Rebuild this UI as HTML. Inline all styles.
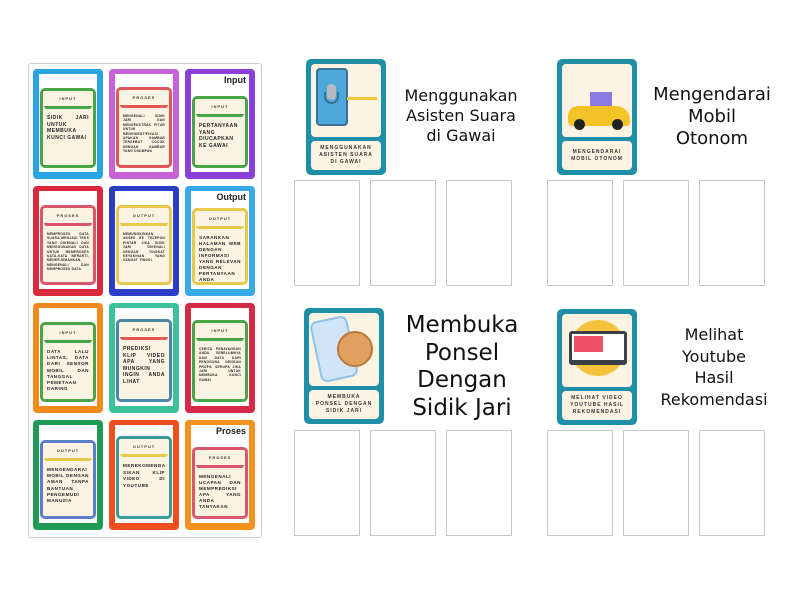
<!DOCTYPE html>
<html><head><meta charset="utf-8"><style>
*{margin:0;padding:0;box-sizing:border-box}
body{width:800px;height:600px;background:#fff;position:relative;overflow:hidden;font-family:"Liberation Sans",sans-serif}
.a{position:absolute}
.panel{left:28px;top:63px;width:234px;height:475px;border:1px solid #ccc;border-radius:3px;background:#fff}
.c{position:absolute;width:70px;height:110px;border-radius:4px}
.w{position:absolute;left:6px;top:5px;right:6px;bottom:7px;background:#fff}
.in{position:absolute;left:1px;right:1px;top:13px;bottom:4px;border:3px solid;border-radius:5px;background:#fdf3e3;overflow:hidden}
.hd{position:absolute;left:1px;right:1px;top:1px;height:17px;border-bottom:3px solid;border-radius:3px;font-size:4px;font-weight:bold;letter-spacing:1px;text-align:center;line-height:14px;color:#333;background:#fdf3e3}
.bd{position:absolute;left:4px;right:4px;top:24px;font-size:5px;font-weight:bold;letter-spacing:.5px;line-height:6.6px;color:#222;text-align:justify}
.bd.s{font-size:3.2px;line-height:4.4px;letter-spacing:.3px}
.lb{position:absolute;right:3px;top:1px;font-size:9px;font-weight:bold;color:#222}
.box{position:absolute;width:66px;height:106px;border:1px solid #c8c8c8;background:#fff}
.tc{position:absolute;width:80px;height:116px;background:#1e8fa6;border-radius:5px}
.img{position:absolute;left:5px;top:5px;right:5px;height:73px;background:#fdf3e3;border-radius:4px;overflow:hidden}
.cap{position:absolute;left:5px;right:5px;top:82px;bottom:5px;background:#fdf3e3;border-radius:4px;font-size:5px;font-weight:bold;letter-spacing:1px;text-align:center;color:#333;display:flex;align-items:center;justify-content:center;line-height:7px}
.t{position:absolute;text-align:center;color:#111;font-family:"DejaVu Sans","Liberation Sans",sans-serif}
</style></head><body>
<div class="a panel"></div>

<!-- row1 -->
<div class="c" style="left:33px;top:69px;background:#2aa3e2"><div class="w"><div class="in" style="border-color:#4aa448;top:14px"><div class="hd" style="border-color:#4aa448">INPUT</div><div class="bd">SIDIK JARI UNTUK MEMBUKA KUNCI GAWAI</div></div></div></div>
<div class="c" style="left:109px;top:69px;background:#c663d8"><div class="w"><div class="in" style="border-color:#e0575a"><div class="hd" style="border-color:#e0575a">PROSES</div><div class="bd s">MENGENALI SIDIK JARI DAN MENGEKSTRAK FITUR UNTUK MENGIDENTIFIKASI APAKAH GAMBAR TERSEBUT COCOK DENGAN GAMBAR YANG DISIMPAN</div></div></div></div>
<div class="c" style="left:185px;top:69px;background:#8b3fd9"><div class="w"><div class="lb">Input</div><div class="in" style="border-color:#4aa448;top:22px"><div class="hd" style="border-color:#4aa448">INPUT</div><div class="bd">PERTANYAAN YANG DIUCAPKAN KE GAWAI</div></div></div></div>
<!-- row2 -->
<div class="c" style="left:33px;top:186px;background:#d8283c"><div class="w"><div class="in" style="border-color:#d9576a;top:14px"><div class="hd" style="border-color:#d9576a">PROSES</div><div class="bd s">MEMPROSES DATA SUARA MENJADI TEKS YANG DIKENALI DAN MENGGUNAKAN DATA UNTUK MEMPROSES KATA-KATA BERARTI, MENERJEMAHKAN, MENGENALI DAN MEMPROSES DATA</div></div></div></div>
<div class="c" style="left:109px;top:186px;background:#2a3fc6"><div class="w"><div class="in" style="border-color:#e9c94a;top:14px"><div class="hd" style="border-color:#e9c94a">OUTPUT</div><div class="bd s">MEMUNGKINKAN AKSES KE TELEPON PINTAR JIKA SIDIK JARI DIKENALI DENGAN TINGKAT KEYAKINAN YANG SANGAT TINGGI</div></div></div></div>
<div class="c" style="left:185px;top:186px;background:#37a9e6"><div class="w"><div class="lb">Output</div><div class="in" style="border-color:#e9c94a;top:17px"><div class="hd" style="border-color:#e9c94a">OUTPUT</div><div class="bd" style="font-size:4.6px;line-height:6px">SARANKAN HALAMAN WEB DENGAN INFORMASI YANG RELEVAN DENGAN PERTANYAAN ANDA</div></div></div></div>
<!-- row3 -->
<div class="c" style="left:33px;top:303px;background:#f08a1c"><div class="w"><div class="in" style="border-color:#4aa448;top:14px"><div class="hd" style="border-color:#4aa448">INPUT</div><div class="bd" style="font-size:4.6px;line-height:6.2px">DATA LALU LINTAS, DATA DARI SENSOR MOBIL DAN TANGGAL PEMETAAN DARING</div></div></div></div>
<div class="c" style="left:109px;top:303px;background:#3cc29b"><div class="w"><div class="in" style="border-color:#4a88a8;top:11px"><div class="hd" style="border-color:#e0575a">PROSES</div><div class="bd">PREDIKSI KLIP VIDEO APA YANG MUNGKIN INGIN ANDA LIHAT</div></div></div></div>
<div class="c" style="left:185px;top:303px;background:#d42a45"><div class="w"><div class="in" style="border-color:#4aa448;top:12px"><div class="hd" style="border-color:#4aa448">INPUT</div><div class="bd s">CERITA PENAYANGAN ANDA SEBELUMNYA DAN DATA DARI PENGGUNA DENGAN PROFIL SERUPA JIKA JARI UNTUK MEMBUKA KUNCI GAWAI</div></div></div></div>
<!-- row4 -->
<div class="c" style="left:33px;top:420px;background:#1f9a52"><div class="w"><div class="in" style="border-color:#5a7fc8;top:15px"><div class="hd" style="border-color:#e9c94a">OUTPUT</div><div class="bd" style="font-size:4.6px;line-height:6.2px">MENGENDARAI MOBIL DENGAN AMAN TANPA BANTUAN PENGEMUDI MANUSIA</div></div></div></div>
<div class="c" style="left:109px;top:420px;background:#ef4f1e"><div class="w"><div class="in" style="border-color:#3a9a9a;top:11px"><div class="hd" style="border-color:#e9c94a">OUTPUT</div><div class="bd" style="font-size:4.6px">MEREKOMENDA SIKAN KLIP VIDEO DI YOUTUBE</div></div></div></div>
<div class="c" style="left:185px;top:420px;background:#f5911f"><div class="w"><div class="lb">Proses</div><div class="in" style="border-color:#d9576a;top:22px"><div class="hd" style="border-color:#d9576a">PROSES</div><div class="bd" style="font-size:4.6px;line-height:6px">MENGENALI UCAPAN DAN MEMPREDIKSI APA YANG ANDA TANYAKAN</div></div></div></div>

<!-- right cards -->
<div class="tc" style="left:306px;top:59px"><div class="img">
<div class="a" style="left:5px;top:4px;width:32px;height:58px;background:#4fa8dc;border:2px solid #3a6f95;border-radius:4px"></div>
<div class="a" style="left:16px;top:20px;width:9px;height:16px;background:#b9b9c0;border-radius:5px"></div>
<div class="a" style="left:13px;top:28px;width:15px;height:12px;border:2px solid #3a6f95;border-top:none;border-radius:0 0 8px 8px"></div>
<div class="a" style="left:36px;top:33px;width:30px;height:3px;background:#f0c93a"></div>
</div><div class="cap">MENGGUNAKAN<br>ASISTEN SUARA<br>DI GAWAI</div></div>
<div class="t" style="left:396px;top:86px;width:130px;font-size:16px;line-height:20px">Menggunakan<br>Asisten Suara<br>di Gawai</div>

<div class="tc" style="left:557px;top:59px"><div class="img">
<div class="a" style="left:28px;top:28px;width:22px;height:18px;background:#8a7ae0"></div>
<div class="a" style="left:6px;top:42px;width:62px;height:20px;background:#f4c326;border-radius:10px 14px 4px 4px"></div>
<div class="a" style="left:12px;top:55px;width:11px;height:11px;background:#222;border-radius:50%"></div>
<div class="a" style="left:50px;top:55px;width:11px;height:11px;background:#222;border-radius:50%"></div>
</div><div class="cap">MENGENDARAI<br>MOBIL OTONOM</div></div>
<div class="t" style="left:647px;top:84px;width:130px;font-size:18px;line-height:22px">Mengendarai<br>Mobil<br>Otonom</div>

<div class="tc" style="left:304px;top:308px"><div class="img">
<div class="a" style="left:6px;top:5px;width:38px;height:62px;background:#cfe4f6;border:2px solid #8fc2ea;border-radius:7px;transform:rotate(-12deg)"></div>
<div class="a" style="left:28px;top:18px;width:36px;height:36px;background:#e0a060;border-radius:50%;border:2px solid #b87a3a"></div>
</div><div class="cap">MEMBUKA<br>PONSEL DENGAN<br>SIDIK JARI</div></div>
<div class="t" style="left:392px;top:312px;width:140px;font-size:23px;line-height:27.5px">Membuka<br>Ponsel<br>Dengan<br>Sidik Jari</div>

<div class="tc" style="left:557px;top:309px"><div class="img">
<div class="a" style="left:8px;top:6px;width:56px;height:56px;background:#f5c33b;border-radius:50%"></div>
<div class="a" style="left:7px;top:17px;width:58px;height:34px;background:#3b3f48;border-radius:3px"></div>
<div class="a" style="left:10px;top:20px;width:52px;height:26px;background:#fff"></div>
<div class="a" style="left:12px;top:22px;width:29px;height:16px;background:#ee5067"></div>
</div><div class="cap">MELIHAT VIDEO<br>YOUTUBE HASIL<br>REKOMENDASI</div></div>
<div class="t" style="left:649px;top:324px;width:130px;font-size:16px;line-height:21.5px">Melihat<br>Youtube<br>Hasil<br>Rekomendasi</div>

<!-- drop boxes -->
<div class="box" style="left:294px;top:180px"></div>
<div class="box" style="left:370px;top:180px"></div>
<div class="box" style="left:446px;top:180px"></div>
<div class="box" style="left:547px;top:180px"></div>
<div class="box" style="left:623px;top:180px"></div>
<div class="box" style="left:699px;top:180px"></div>
<div class="box" style="left:294px;top:430px"></div>
<div class="box" style="left:370px;top:430px"></div>
<div class="box" style="left:446px;top:430px"></div>
<div class="box" style="left:547px;top:430px"></div>
<div class="box" style="left:623px;top:430px"></div>
<div class="box" style="left:699px;top:430px"></div>
</body></html>
